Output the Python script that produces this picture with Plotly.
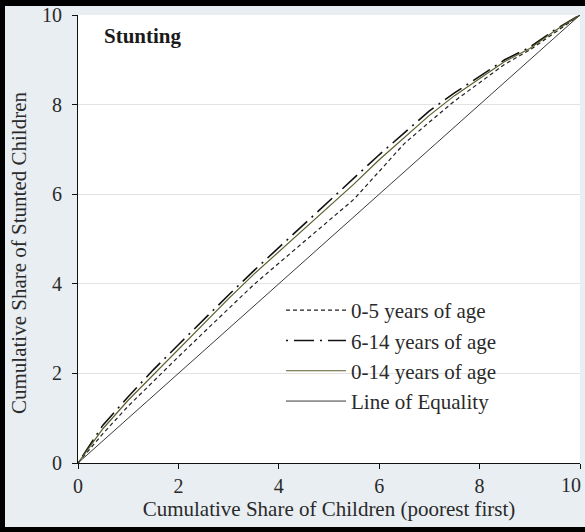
import plotly.graph_objects as go

# Cumulative share of children (poorest first)
x_share = [0, 0.5, 1, 1.5, 2, 2.5, 3, 3.5, 4, 4.5, 5, 5.5, 6, 6.5, 7, 7.5, 8, 8.5, 9, 9.5, 10]

# Cumulative share of stunted children
age_0_5 = [0, 0.66, 1.27, 1.83, 2.37, 2.91, 3.44, 3.98, 4.46, 4.94, 5.42, 5.89, 6.51, 7.13, 7.61, 8.08, 8.49, 8.90, 9.22, 9.62, 10]
age_6_14 = [0, 0.85, 1.48, 2.08, 2.64, 3.20, 3.75, 4.29, 4.81, 5.33, 5.85, 6.36, 6.88, 7.37, 7.86, 8.26, 8.63, 9.00, 9.28, 9.67, 10]
age_0_14 = [0, 0.77, 1.40, 1.97, 2.53, 3.10, 3.67, 4.21, 4.71, 5.22, 5.72, 6.23, 6.77, 7.27, 7.76, 8.20, 8.58, 8.96, 9.25, 9.65, 10]
equality = [0, 10]
equality_x = [0, 10]

tick_vals = [0, 2, 4, 6, 8, 10]
y_tick_text = ["0", "2", "4", "6", "8", "10"]
x_tick_text = ["0", "2", "4", "6", "8", ""]   # last label drawn as annotation (kept inside the frame)
x_last_label = "10"

FONT = "Liberation Serif"
TXT = "#2a2a2a"

W, H = 585, 532
L, R, T, B = 78, 5, 15, 69
PW, PH = W - L - R, H - T - B


def px_x(p):
    return (p - L) / PW


def px_y(p):
    return (H - B - p) / PH


fig = go.Figure()
fig.add_trace(go.Scatter(x=x_share, y=age_0_5, mode="lines", name="0-5 years of age",
                         legendgroup="a",
                         line=dict(color="#222222", width=1.2, dash="4px,3px")))
fig.add_trace(go.Scatter(x=x_share, y=age_6_14, mode="lines", name="6-14 years of age",
                         legendgroup="b",
                         line=dict(color="#111111", width=1.6, dash="2px,6px,20px,6px")))
fig.add_trace(go.Scatter(x=x_share, y=age_0_14, mode="lines", name="0-14 years of age",
                         legendgroup="c",
                         line=dict(color="#5e5e2c", width=1.2)))
fig.add_trace(go.Scatter(x=equality_x, y=equality, mode="lines", name="Line of Equality",
                         legendgroup="d",
                         line=dict(color="#3a3a3a", width=1)))

border = dict(type="rect", xref="paper", yref="paper", layer="above",
              line=dict(width=0), fillcolor="#000000")

fig.update_layout(
    width=W, height=H,
    margin=dict(l=L, r=R, t=T, b=B),
    paper_bgcolor="#e9eef2",
    plot_bgcolor="#ffffff",
    font=dict(family=FONT, size=20, color=TXT),
    showlegend=True,
    legend=dict(x=px_x(281), xanchor="left", y=px_y(290), yanchor="top",
                bgcolor="rgba(0,0,0,0)", font=dict(family=FONT, size=21, color=TXT),
                itemwidth=60, tracegroupgap=0, traceorder="grouped"),
    xaxis=dict(range=[0, 10], tickvals=tick_vals, ticktext=x_tick_text, automargin=False,
               showgrid=False, zeroline=False, showline=True, linecolor="#111111", linewidth=1,
               ticks="outside", ticklen=5, tickcolor="#111111",
               tickfont=dict(family=FONT, size=20, color=TXT),
               title=dict(text="Cumulative Share of Children (poorest first)",
                          font=dict(family=FONT, size=21, color=TXT), standoff=4)),
    yaxis=dict(range=[0, 10], tickvals=tick_vals, ticktext=y_tick_text, automargin=False,
               showgrid=True, gridcolor="#e2e2e2", gridwidth=1.2, zeroline=False,
               showline=True, linecolor="#111111", linewidth=1,
               ticks="outside", ticklen=5, tickcolor="#111111", ticklabelstandoff=6,
               tickfont=dict(family=FONT, size=20, color=TXT)),
    annotations=[
        dict(text="<b>Stunting</b>", x=px_x(102), y=px_y(36),
             xref="paper", yref="paper", xanchor="left", yanchor="middle",
             showarrow=False, font=dict(family=FONT, size=21, color="#1a1a1a")),
        dict(text="Cumulative Share of Stunted Children", x=px_x(19), y=px_y(253),
             xref="paper", yref="paper", xanchor="center", yanchor="middle", textangle=-90,
             showarrow=False, font=dict(family=FONT, size=21, color=TXT)),
        dict(text=x_last_label, x=px_x(583), y=px_y(485),
             xref="paper", yref="paper", xanchor="right", yanchor="middle",
             showarrow=False, font=dict(family=FONT, size=20, color=TXT)),
    ],
    shapes=[
        dict(border, x0=px_x(0), x1=px_x(W), y0=px_y(0), y1=px_y(6)),     # top band
        dict(border, x0=px_x(0), x1=px_x(5), y0=px_y(0), y1=px_y(H)),     # left band
        dict(border, x0=px_x(0), x1=px_x(W), y0=px_y(527), y1=px_y(H)),   # bottom band
    ],
)

fig.write_html("out.html", config={"displayModeBar": False},
               post_script="document.body.style.margin='0';document.body.style.overflow='hidden';")
